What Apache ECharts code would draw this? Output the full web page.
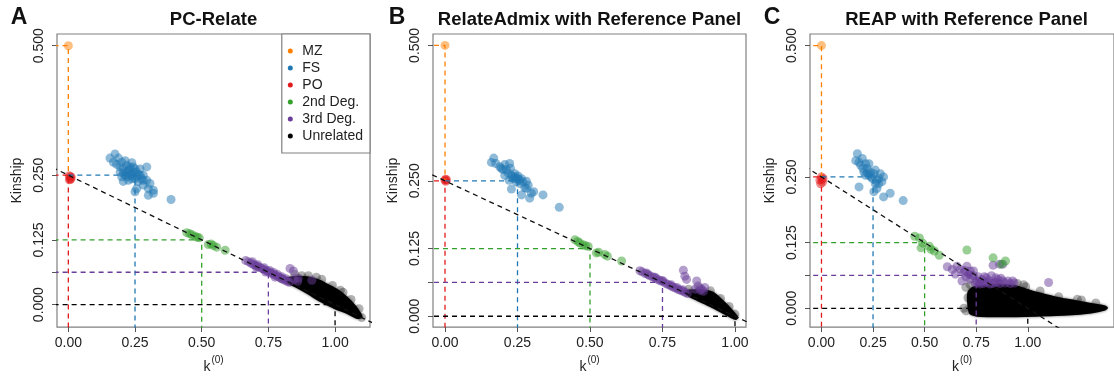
<!DOCTYPE html>
<html>
<head>
<meta charset="utf-8">
<style>
  html, body { margin: 0; padding: 0; background: #fff; }
  #chart { width: 1114px; height: 379px; }
</style>
<script src="https://cdn.jsdelivr.net/npm/echarts@6/dist/echarts.min.js"></script>
</head>
<body>
<div id="chart"></div>
<script>
// groups and colours (legend order)
const groups = ['MZ', 'FS', 'PO', '2nd Deg.', '3rd Deg.', 'Unrelated'];
const groupColors = ['#ff7f00', '#1f78b4', '#e31a1c', '#33a02c', '#6a3d9a', '#000000'];

// tick values
const xTicks = [0, 0.25, 0.5, 0.75, 1];
const yTicks = [0, 0.0625, 0.125, 0.25, 0.5];
const yTickLabels = [0, 0.125, 0.25, 0.5];

// expected (k0, kinship) reference guides, clipped to the plot box
const refMZ = [[-1, 0.5], [0, 0.5], [0, 0.25]];
const refFS = [[0, 0.25], [0.25, 0.25], [0.25, -1]];
const refPO = [[-1, 0.25], [0, 0.25], [0, -1]];
const ref2nd = [[-1, 0.125], [0.5, 0.125], [0.5, -1]];
const ref3rd = [[-1, 0.0625], [0.75, 0.0625], [0.75, -1]];
const refUn = [[-1, 0], [1, 0], [1, -1]];
const refDiag = [[-1, 0.5], [2, -0.25]];

// ---- panel A : PC-Relate ----
const mzA = [[0.0, 0.5]];
const fsA = [[0.156,0.283],[0.175,0.291],[0.188,0.283],[0.169,0.275],[0.181,0.271],[0.200,0.275],[0.213,0.278],[0.219,0.269],[0.238,0.274],[0.244,0.266],[0.206,0.262],[0.194,0.256],[0.225,0.259],[0.213,0.250],[0.238,0.253],[0.256,0.256],[0.269,0.262],[0.294,0.266],[0.281,0.250],[0.250,0.243],[0.225,0.240],[0.206,0.238],[0.263,0.238],[0.275,0.243],[0.294,0.240],[0.306,0.234],[0.300,0.224],[0.319,0.221],[0.281,0.231],[0.256,0.224],[0.250,0.218],[0.300,0.211],[0.319,0.215],[0.385,0.203],[0.219,0.256],[0.231,0.250],[0.244,0.256],[0.206,0.253],[0.238,0.243],[0.256,0.247],[0.219,0.247],[0.200,0.247],[0.269,0.250],[0.250,0.262],[0.231,0.266],[0.194,0.266],[0.281,0.240],[0.228,0.262],[0.240,0.248],[0.262,0.252]];
const poA = [[0.003,0.249],[0.008,0.247],[0.006,0.243],[0.011,0.246],[0.004,0.241],[0.009,0.242]];
const deg2A = [[0.444,0.139],[0.455,0.137],[0.463,0.135],[0.475,0.132],[0.483,0.130],[0.491,0.129],[0.525,0.116],[0.535,0.117],[0.544,0.114],[0.556,0.111],[0.588,0.105]];
const deg3A = [[0.665,0.085],[0.675,0.083],[0.685,0.080],[0.693,0.078],[0.700,0.076],[0.708,0.074],[0.715,0.072],[0.722,0.071],[0.730,0.069],[0.737,0.067],[0.745,0.065],[0.752,0.063],[0.760,0.061],[0.767,0.059],[0.775,0.057],[0.783,0.055],[0.790,0.053],[0.797,0.051],[0.805,0.049],[0.812,0.047],[0.820,0.045],[0.828,0.043],[0.690,0.083],[0.710,0.077],[0.735,0.071],[0.755,0.066],[0.770,0.062],[0.785,0.058],[0.800,0.054],[0.815,0.050],[0.705,0.072],[0.740,0.063],[0.775,0.053],[0.831,0.070],[0.844,0.065],[0.862,0.051],[0.913,0.047],[0.845,0.048],[0.860,0.045]];
const unrelA = [[0.800,0.050],[0.850,0.058],[0.900,0.056],[0.930,0.053],[0.950,0.049],[0.990,0.037],[1.030,0.024],[1.060,0.010],[1.090,-0.008],[1.100,-0.025],[0.830,0.045],[0.875,0.056],[1.020,0.028]];
const blobA = [[0.815,0.050],[0.831,0.052],[0.860,0.054],[0.894,0.053],[0.920,0.050],[0.944,0.046],[0.969,0.039],[1.006,0.029],[1.044,0.014],[1.075,-0.003],[1.095,-0.018],[1.100,-0.024],[1.085,-0.026],[1.060,-0.020],[1.044,-0.016],[1.000,-0.007],[0.960,0.003],[0.944,0.007],[0.894,0.023],[0.860,0.033],[0.831,0.040],[0.815,0.045]];

// ---- panel B : RelateAdmix ----
const mzB = [[0.0, 0.5]];
const fsB = [[0.168,0.292],[0.160,0.284],[0.175,0.282],[0.189,0.276],[0.200,0.271],[0.206,0.280],[0.223,0.282],[0.226,0.273],[0.217,0.265],[0.206,0.260],[0.229,0.260],[0.241,0.263],[0.252,0.259],[0.246,0.254],[0.258,0.251],[0.269,0.248],[0.281,0.249],[0.287,0.242],[0.275,0.237],[0.264,0.254],[0.235,0.254],[0.221,0.251],[0.229,0.235],[0.264,0.224],[0.292,0.218],[0.298,0.227],[0.306,0.230],[0.338,0.224],[0.394,0.201],[0.194,0.273],[0.212,0.270],[0.246,0.248],[0.281,0.236],[0.241,0.257],[0.252,0.254],[0.233,0.258],[0.258,0.245]];
const poB = [[0.000,0.251],[0.003,0.249],[0.005,0.252],[0.002,0.253]];
const deg2B = [[0.448,0.141],[0.458,0.138],[0.465,0.135],[0.476,0.132],[0.485,0.130],[0.494,0.129],[0.522,0.117],[0.530,0.118],[0.551,0.114],[0.560,0.111],[0.609,0.102]];
const deg3B = [[0.672,0.084],[0.680,0.082],[0.690,0.079],[0.700,0.077],[0.705,0.075],[0.715,0.073],[0.722,0.071],[0.730,0.069],[0.738,0.067],[0.745,0.065],[0.752,0.064],[0.760,0.061],[0.768,0.059],[0.775,0.057],[0.783,0.055],[0.790,0.053],[0.798,0.051],[0.806,0.049],[0.813,0.048],[0.820,0.046],[0.828,0.044],[0.836,0.042],[0.695,0.080],[0.725,0.072],[0.750,0.066],[0.780,0.058],[0.800,0.053],[0.820,0.049],[0.822,0.085],[0.827,0.074],[0.833,0.068],[0.868,0.065],[0.873,0.056],[0.885,0.050],[0.896,0.053],[0.862,0.050],[0.891,0.046],[0.880,0.048]];
const unrelB = [[0.840,0.050],[0.880,0.052],[0.915,0.047],[0.950,0.033],[0.980,0.018],[1.000,0.004]];
const blobB = [[0.825,0.045],[0.860,0.048],[0.900,0.047],[0.925,0.043],[0.950,0.032],[0.975,0.019],[0.995,0.007],[1.008,-0.002],[1.003,-0.005],[0.985,-0.001],[0.950,0.009],[0.910,0.020],[0.870,0.030],[0.840,0.038]];

// ---- panel C : REAP ----
const mzC = [[0.0, 0.5]];
const fsC = [[0.174,0.294],[0.166,0.281],[0.182,0.278],[0.198,0.285],[0.214,0.275],[0.230,0.275],[0.222,0.266],[0.206,0.259],[0.238,0.259],[0.254,0.256],[0.246,0.247],[0.269,0.244],[0.277,0.237],[0.293,0.241],[0.301,0.250],[0.285,0.256],[0.182,0.231],[0.254,0.222],[0.269,0.228],[0.301,0.212],[0.333,0.219],[0.396,0.205],[0.190,0.272],[0.201,0.266],[0.230,0.253],[0.261,0.263],[0.214,0.253],[0.261,0.237],[0.277,0.247],[0.240,0.250],[0.222,0.258]];
const poC = [[0.000,0.250],[-0.008,0.244],[0.005,0.240],[-0.004,0.237],[0.008,0.247],[0.002,0.245]];
const deg2C = [[0.452,0.137],[0.475,0.134],[0.491,0.124],[0.483,0.115],[0.523,0.118],[0.531,0.112],[0.547,0.109],[0.571,0.101],[0.705,0.111],[0.832,0.096],[0.892,0.090],[0.872,0.084]];
const deg3C = [[0.610,0.079],[0.634,0.074],[0.657,0.080],[0.673,0.074],[0.689,0.068],[0.681,0.052],[0.713,0.065],[0.721,0.055],[0.737,0.062],[0.752,0.052],[0.776,0.055],[0.800,0.058],[0.824,0.062],[0.832,0.082],[0.863,0.084],[0.879,0.084],[0.856,0.055],[0.879,0.052],[0.903,0.052],[0.927,0.052],[1.101,0.049],[0.768,0.046],[0.816,0.046],[0.721,0.071],[0.705,0.080],[0.737,0.071],[0.649,0.065],[0.760,0.060],[0.790,0.050],[0.840,0.050],[0.745,0.048],[0.700,0.060],[0.770,0.050],[0.785,0.047],[0.805,0.049],[0.830,0.047],[0.850,0.049],[0.865,0.047],[0.890,0.048],[0.915,0.047],[0.935,0.048],[0.790,0.060],[0.810,0.053],[0.845,0.058],[0.870,0.057],[0.760,0.049],[0.725,0.063],[0.695,0.072]];
const unrelC = [[0.700,0.040],[0.710,0.020],[0.700,-0.005],[0.690,0.000],[0.950,0.047],[0.980,0.045],[0.990,0.041],[1.060,0.033],[1.150,0.022],[1.240,0.017],[1.260,0.016],[1.330,0.010],[0.720,0.045]];
const blobC = [[0.712,0.030],[0.729,0.038],[0.752,0.042],[0.800,0.044],[0.879,0.045],[0.943,0.042],[0.990,0.036],[1.038,0.030],[1.101,0.024],[1.164,0.018],[1.228,0.014],[1.307,0.008],[1.370,0.004],[1.384,0.001],[1.370,-0.003],[1.307,-0.008],[1.196,-0.012],[1.038,-0.014],[0.879,-0.015],[0.752,-0.014],[0.722,-0.010],[0.712,0.005]];

const panels = [
  { title: 'PC-Relate', letter: 'A', letterX: 19, grid: { left: 57, top: 34, width: 313, height: 296 },
    x: [-0.0425, 1.131], y: [-0.0434, 0.5226], pts: [mzA, fsA, poA, deg2A, deg3A, unrelA], blob: blobA },
  { title: 'RelateAdmix with Reference Panel', letter: 'B', letterX: 397, grid: { left: 433, top: 34, width: 313, height: 296 },
    x: [-0.0414, 1.038], y: [-0.020, 0.521], pts: [mzB, fsB, poB, deg2B, deg3B, unrelB], blob: blobB },
  { title: 'REAP with Reference Panel', letter: 'C', letterX: 772, grid: { left: 810, top: 34, width: 310, height: 296 },
    x: [-0.0556, 1.418], y: [-0.0358, 0.522], pts: [mzC, fsC, poC, deg2C, deg3C, unrelC], blob: blobC }
];

const FONT = '"Liberation Sans", Arial, Helvetica, sans-serif';
const refs = [[refMZ, 0], [refFS, 1], [refPO, 2], [ref2nd, 3], [ref3rd, 4], [refUn, 5]];
const drawOrder = [5, 4, 3, 2, 1, 0];

const series = [];
panels.forEach((p, i) => {
  refs.forEach(([d, c]) => {
    series.push({
      type: 'line', xAxisIndex: i, yAxisIndex: i, data: d, symbol: 'none', silent: true,
      lineStyle: { color: groupColors[c], width: 1.3, type: [5, 4] }
    });
  });
  series.push({
    type: 'line', xAxisIndex: i, yAxisIndex: i, data: refDiag, symbol: 'none', silent: true,
    lineStyle: { color: '#111', width: 1.3, type: [5, 4] }
  });
  // dense unrelated core
  series.push({
    type: 'custom', xAxisIndex: i, yAxisIndex: i, silent: true,
    data: [p.blob[0]],
    renderItem: (params, api) => ({
      type: 'polygon',
      shape: { points: p.blob.map(v => api.coord(v)), smooth: 0.2 },
      style: { fill: '#000', stroke: '#000', lineWidth: 2, lineJoin: 'round',
               shadowBlur: 3, shadowColor: 'rgba(0,0,0,0.5)' }
    })
  });
  drawOrder.forEach(j => {
    series.push({
      type: 'scatter', name: groups[j], xAxisIndex: i, yAxisIndex: i, data: p.pts[j],
      symbolSize: 9,
      itemStyle: { color: groupColors[j], opacity: j === 5 ? 0.3 : 0.5 }
    });
  });
});

const option = {
  animation: false,
  textStyle: { fontFamily: FONT },
  grid: panels.map(p => Object.assign({ show: true, borderColor: '#808080', borderWidth: 1.2, backgroundColor: 'transparent' }, p.grid)),
  xAxis: panels.map((p, i) => ({
    type: 'value', gridIndex: i, min: p.x[0], max: p.x[1],
    axisLine: { show: false, onZero: false },
    splitLine: { show: false },
    axisTick: { show: true, length: 5, lineStyle: { color: '#555' }, customValues: xTicks },
    axisLabel: { customValues: xTicks, formatter: v => v.toFixed(2), fontSize: 14, color: '#222', margin: 9, fontFamily: FONT },
    name: '{k|k}{s|(0)}', nameLocation: 'middle', nameGap: 21,
    nameTextStyle: {
      color: '#222', fontFamily: FONT,
      rich: {
        k: { fontSize: 14, verticalAlign: 'bottom', color: '#222', fontFamily: FONT },
        s: { fontSize: 10, verticalAlign: 'top', padding: [0, 0, 9, 1], color: '#222', fontFamily: FONT }
      }
    }
  })),
  yAxis: panels.map((p, i) => ({
    type: 'value', gridIndex: i, min: p.y[0], max: p.y[1],
    axisLine: { show: false, onZero: false },
    splitLine: { show: false },
    axisTick: { show: true, length: 5, lineStyle: { color: '#555' }, customValues: yTicks },
    axisLabel: { customValues: yTickLabels, formatter: v => v.toFixed(3), rotate: 90, fontSize: 14, color: '#222', margin: 11, fontFamily: FONT },
    name: 'Kinship', nameLocation: 'middle', nameRotate: 90, nameGap: 33,
    nameTextStyle: { fontSize: 14, color: '#222', fontFamily: FONT }
  })),
  legend: {
    right: 744, top: 34, orient: 'vertical',
    data: groups.map((g, j) => ({ name: g, itemStyle: { color: groupColors[j], opacity: 1 } })),
    icon: 'circle', itemWidth: 14, itemHeight: 5, itemGap: 3,
    padding: [10, 7, 10, 6],
    borderColor: '#808080', borderWidth: 1.2, backgroundColor: '#fff',
    textStyle: { fontSize: 14, color: '#222', fontFamily: FONT },
    selectedMode: false
  },
  graphic: panels.flatMap(p => [
    { type: 'text', x: p.letterX, y: 18, silent: true,
      style: { text: p.letter, font: 'bold 23px ' + FONT, fill: '#111', align: 'center', verticalAlign: 'middle' } },
    { type: 'text', x: p.grid.left + 313 / 2, y: 20, silent: true,
      style: { text: p.title, font: 'bold 18.5px ' + FONT, fill: '#111', align: 'center', verticalAlign: 'middle' } }
  ]),
  series: series
};

const chart = echarts.init(document.getElementById('chart'));
chart.setOption(option);
</script>
</body>
</html>
